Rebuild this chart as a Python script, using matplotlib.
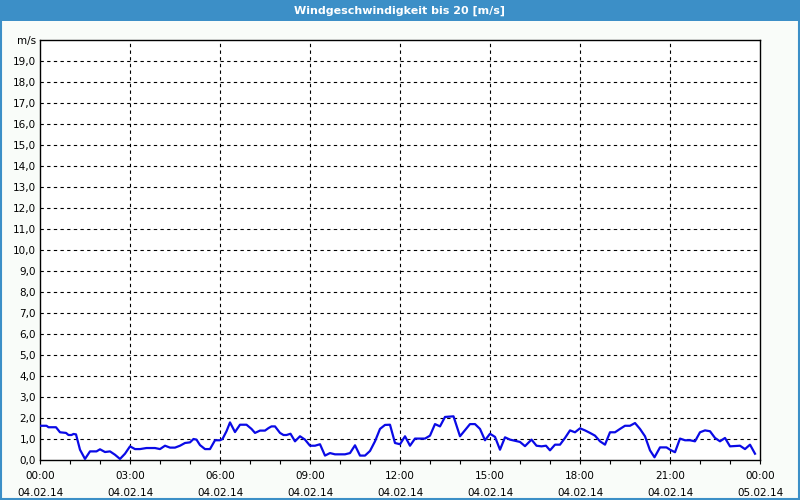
import matplotlib.pyplot as plt
from matplotlib.patches import Rectangle
import numpy as np

# Messzeitpunkte (Minuten seit 04.02.14 00:00) und Windgeschwindigkeit [m/s]
minutes = [0, 13, 17, 32, 40, 52, 57, 63, 67, 72, 80, 90, 100, 113, 120, 130, 140, 150,
           160, 170, 180, 190, 200, 213, 230, 240, 250, 260, 270, 280, 290, 300, 307, 313,
           320, 330, 340, 350, 360, 365, 373, 380, 390, 400, 413, 423, 430, 440, 450, 457,
           463, 470, 480, 487, 493, 501, 510, 520, 530, 540, 550, 560, 570, 580, 590, 610,
           620, 630, 640, 650, 660, 670, 680, 690, 700, 710, 720, 730, 740, 750, 770, 780,
           790, 800, 810, 827, 840, 860, 870, 880, 890, 900, 910, 920, 930, 940, 960, 970,
           983, 993, 1003, 1012, 1020, 1030, 1040, 1050, 1060, 1070, 1080, 1090, 1100, 1110,
           1120, 1130, 1140, 1150, 1160, 1170, 1180, 1190, 1200, 1210, 1220, 1229, 1240, 1253,
           1260, 1270, 1280, 1290, 1300, 1310, 1320, 1330, 1340, 1350, 1360, 1370, 1380, 1400,
           1410, 1420, 1430]
speed = [1.63, 1.63, 1.56, 1.56, 1.32, 1.29, 1.19, 1.19, 1.24, 1.22, 0.49, 0.05, 0.41, 0.41,
         0.51, 0.38, 0.41, 0.25, 0.05, 0.30, 0.65, 0.52, 0.52, 0.57, 0.57, 0.52, 0.68, 0.59,
         0.59, 0.68, 0.81, 0.84, 1.00, 0.97, 0.71, 0.52, 0.52, 0.94, 0.94, 1.00, 1.37, 1.79,
         1.33, 1.68, 1.68, 1.48, 1.29, 1.40, 1.40, 1.52, 1.60, 1.60, 1.29, 1.19, 1.19, 1.25,
         0.89, 1.13, 0.97, 0.68, 0.68, 0.75, 0.21, 0.33, 0.27, 0.27, 0.33, 0.70, 0.21, 0.21,
         0.43, 0.89, 1.48, 1.67, 1.68, 0.81, 0.75, 1.13, 0.68, 1.02, 1.02, 1.16, 1.71, 1.60,
         2.05, 2.08, 1.13, 1.71, 1.71, 1.48, 0.94, 1.25, 1.10, 0.49, 1.08, 0.97, 0.86, 0.66,
         0.97, 0.68, 0.65, 0.68, 0.46, 0.73, 0.73, 1.05, 1.41, 1.32, 1.51, 1.41, 1.29, 1.16,
         0.89, 0.73, 1.32, 1.32, 1.48, 1.63, 1.63, 1.76, 1.48, 1.13, 0.46, 0.13, 0.60, 0.60,
         0.49, 0.37, 1.02, 0.94, 0.94, 0.89, 1.32, 1.41, 1.37, 1.05, 0.89, 1.05, 0.65, 0.68,
         0.52, 0.73, 0.30]

tick_times = ["00:00", "03:00", "06:00", "09:00", "12:00", "15:00", "18:00", "21:00", "00:00"]
tick_dates = ["04.02.14"] * 8 + ["05.02.14"]

BLUE = "#3c8fc7"

hours = np.array(minutes) / 60.0

fig = plt.figure(figsize=(8, 5), dpi=100)
fig.patch.set_facecolor("#f9fcf9")

# Titelleiste und Rahmen
fig.patches.append(Rectangle((0, 1 - 21 / 500), 1, 21 / 500, transform=fig.transFigure,
                             facecolor=BLUE, edgecolor="none", zorder=0))
fig.patches.append(Rectangle((0.001, 0.002), 0.998, 0.997, transform=fig.transFigure,
                             facecolor="none", edgecolor=BLUE, linewidth=1.5, zorder=1))
fig.text(0.5, 1 - 10.5 / 500, "Windgeschwindigkeit bis 20 [m/s]", color="white",
         fontsize=8, fontweight="bold", ha="center", va="center")

ax = fig.add_axes([40 / 800, 40 / 500, 720 / 800, 420 / 500])
ax.set_facecolor("white")
ax.plot(hours, speed, color="#0a0ae6", linewidth=1.6, zorder=3)

ax.set_xlim(0, 24)
ax.set_ylim(0, 20)

ax.set_yticks(range(0, 21))
ax.set_yticklabels([f"{v},0" for v in range(20)] + ["m/s"])
ax.set_xticks(range(0, 25, 3))
ax.set_xticklabels([f"{t}\n{d}" for t, d in zip(tick_times, tick_dates)], linespacing=1.9)
ax.set_xticks(range(0, 25), minor=True)

ax.tick_params(axis="y", length=0, labelsize=7.5, pad=3)
ax.tick_params(axis="x", which="both", length=3, width=0.8, labelsize=7.5, pad=5, direction="out")

for v in range(1, 20):
    ax.axhline(v, color="black", linewidth=0.8, linestyle=(0, (3, 3)), zorder=1)
for h in range(3, 24, 3):
    ax.axvline(h, color="black", linewidth=0.8, linestyle=(0, (3, 3)), zorder=1)

for s in ax.spines.values():
    s.set_linewidth(1.0)
    s.set_color("black")

fig.savefig("out.png", dpi=100, facecolor=fig.get_facecolor())
